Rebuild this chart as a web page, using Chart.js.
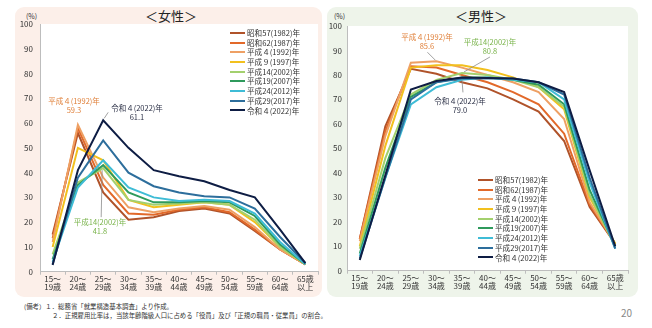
<!DOCTYPE html>
<html lang="ja">
<head>
<meta charset="utf-8">
<script src="https://cdn.jsdelivr.net/npm/chart.js@4"></script>
<style>
  body { margin: 0; width: 652px; height: 328px; background: #fff; position: relative; overflow: hidden;
         font-family: "Noto Sans CJK JP", "Noto Sans", sans-serif; color: #333; }
  .panel { position: absolute; top: 7px; height: 290px; border-radius: 9px; }
  .abs { position: absolute; white-space: nowrap; }
  .ttl { font-size: 13px; color: #222; transform: translateX(-50%); }
  .ann { font-size: 7.5px; line-height: 9px; text-align: center; transform: translateX(-50%); }
  .leg { position: absolute; font-size: 7.6px; line-height: 9.7px; color: #333; }
  .leg div { display: flex; align-items: center; height: 9.7px; }
  .leg span { display: inline-block; width: 15px; height: 2px; margin-right: 2px; }
  .note { font-size: 6.4px; color: #333; }
  canvas { position: absolute; top: 0; }
</style>
</head>
<body>
<div class="panel" style="left:15px;width:307px;background:#fcefe9"></div>
<div class="panel" style="left:327px;width:311px;background:#eef4ea"></div>

<div class="abs ttl" style="left:171px;top:6px">＜女性＞</div>
<div class="abs ttl" style="left:481px;top:6px">＜男性＞</div>
<div class="abs" style="left:26px;top:11px;font-size:7px">(%)</div>
<div class="abs" style="left:334px;top:11px;font-size:7px">(%)</div>

<canvas id="femaleChart" width="322" height="297" style="left:0;width:322px;height:297px"></canvas>
<canvas id="maleChart" width="313" height="297" style="left:325px;width:313px;height:297px"></canvas>

<div class="leg" id="legF" style="left:230px;top:28px"></div>
<div class="leg" id="legM" style="left:478px;top:175px"></div>

<div class="abs ann" style="left:74px;top:96px;color:#e0803a">平成４(1992)年<br>59.3</div>
<div class="abs ann" style="left:137px;top:103px;color:#2a2f45">令和４(2022)年<br>61.1</div>
<div class="abs ann" style="left:100px;top:217px;color:#79b34a">平成14(2002)年<br>41.8</div>
<div class="abs ann" style="left:427px;top:32px;color:#e0803a">平成４(1992)年<br>85.6</div>
<div class="abs ann" style="left:490px;top:37px;color:#79b34a">平成14(2002)年<br>80.8</div>
<div class="abs ann" style="left:460px;top:96px;color:#2a2f45">令和４(2022)年<br>79.0</div>

<div class="abs note" style="left:24px;top:302px">(備考）１．総務省「就業構造基本調査」より作成。</div>
<div class="abs note" style="left:52px;top:311px">２．正規雇用比率は，当該年齢階級人口に占める「役員」及び「正規の職員・従業員」の割合。</div>
<div class="abs" style="left:621px;top:305px;font-size:10px;color:#888">20</div>

<script>
// 年齢階級
const ageLabels = [["15～","19歳"],["20～","24歳"],["25～","29歳"],["30～","34歳"],["35～","39歳"],
  ["40～","44歳"],["45～","49歳"],["50～","54歳"],["55～","59歳"],["60～","64歳"],["65歳","以上"]];
const years = ["昭和57(1982)年","昭和62(1987)年","平成４(1992)年","平成９(1997)年","平成14(2002)年",
  "平成19(2007)年","平成24(2012)年","平成29(2017)年","令和４(2022)年"];
const yTicks = [0, 10, 20, 30, 40, 50, 60, 70, 80, 90, 100];

// 女性 正規雇用比率 (%)
const f1982 = [15, 56, 32, 21, 22, 24.5, 25.5, 23.5, 16.5, 9, 3];
const f1987 = [13.5, 58, 35, 23.5, 23, 25, 26, 24, 17, 9, 3];
const f1992 = [12, 59.3, 38, 26, 24, 25.5, 26.5, 25, 18, 9, 3];
const f1997 = [10, 50, 45, 29, 26, 27, 28, 27, 20, 10, 3];
const f2002 = [7, 36, 41.8, 29, 27, 27.5, 28, 27, 21, 10, 3];
const f2007 = [5, 35, 43, 32, 28, 28, 28.5, 28, 22.5, 11, 3];
const f2012 = [4, 34, 45, 34, 30, 28.5, 29, 28.5, 23.5, 12, 3];
const f2017 = [3, 38, 53, 40, 34.5, 32, 30.5, 30, 25.5, 14, 3.5];
const f2022 = [2.7, 41, 61.1, 50, 41, 38.5, 36.5, 33, 30, 17, 3.5];

// 男性 正規雇用比率 (%)
const m1982 = [13, 59, 82.5, 80.5, 77, 74.5, 70, 65, 53, 26, 11];
const m1987 = [13, 57, 83.5, 83, 80, 77, 73, 68, 56, 27, 11];
const m1992 = [12, 55, 85, 85.6, 83, 80, 77, 73, 62, 28, 11];
const m1997 = [10, 51, 83, 84, 84, 82, 79, 75, 66, 30, 11];
const m2002 = [9, 46, 72, 78, 80.8, 80, 78, 75, 67, 31, 10];
const m2007 = [7, 42, 71, 77, 79, 79, 78, 76, 68, 33, 10];
const m2012 = [6, 38, 68, 75, 78, 79, 78, 77, 70, 36, 9];
const m2017 = [5, 38, 70, 77, 78.5, 78.5, 78.5, 77, 72, 38, 9];
const m2022 = [4.4, 39, 74, 77.5, 79.0, 78.8, 78.5, 77, 73, 41, 10];

const lineColors = ["#b0532a", "#e2692a", "#eea064", "#f2c01e", "#a3d06e", "#2f9a5c", "#3fbcd6", "#2d6e9c", "#0e1d44"];

// 凡例
function buildLegend(id) {
  const box = document.getElementById(id);
  years.forEach((y, i) => {
    const row = document.createElement("div");
    row.innerHTML = '<span style="background:' + lineColors[i] + '"></span>' + y;
    box.appendChild(row);
  });
}
buildLegend("legF");
buildLegend("legM");

// プロット領域を白に
const plotBg = {
  id: "plotBg",
  beforeDraw(chart) {
    const { ctx, chartArea: a } = chart;
    ctx.save();
    ctx.fillStyle = "#fff";
    ctx.fillRect(a.left, a.top, a.right - a.left, a.bottom - a.top);
    ctx.restore();
  }
};

// 引き出し線
const leaders = {
  id: "leaders",
  afterDatasetsDraw(chart, args, opts) {
    const { ctx, scales } = chart;
    ctx.save();
    ctx.strokeStyle = "#8a8a8a";
    ctx.lineWidth = 0.8;
    (opts.items || []).forEach(it => {
      const v = chart.data.datasets[it.ds].data[it.idx];
      const x = scales.x.getPixelForValue(it.idx);
      const y = scales.y.getPixelForValue(v);
      ctx.beginPath();
      ctx.moveTo(x + it.gap[0], y + it.gap[1]);
      ctx.lineTo(x + it.dx, y + it.dy);
      ctx.stroke();
    });
    ctx.restore();
  }
};

const fontFamily = '"Noto Sans CJK JP", "Noto Sans", sans-serif';

function makeChart(id, series, box, leaderItems) {
  return new Chart(document.getElementById(id), {
    type: "line",
    data: {
      labels: ageLabels,
      datasets: series.map((d, i) => ({
        label: years[i],
        data: d,
        borderColor: lineColors[i],
        backgroundColor: lineColors[i],
        borderWidth: 2,
        pointRadius: 0,
        tension: 0,
        fill: false,
        order: series.length - i
      }))
    },
    options: {
      responsive: false,
      animation: false,
      layout: { padding: { top: box.top, right: box.right, left: 0, bottom: 0 } },
      plugins: {
        legend: { display: false },
        tooltip: { enabled: false },
        leaders: { items: leaderItems }
      },
      scales: {
        x: {
          offset: true,
          grid: { display: true, drawOnChartArea: false, drawTicks: true, tickLength: 3, offset: true, color: "#bdbdbd" },
          border: { display: true, color: "#bdbdbd" },
          ticks: { autoSkip: false, maxRotation: 0, padding: 0, color: "#333",
                   font: { family: fontFamily, size: 8, lineHeight: 1.05 } },
          afterFit: s => { s.height = box.xh; }
        },
        y: {
          min: 0, max: 100,
          afterBuildTicks: s => { s.ticks = yTicks.map(v => ({ value: v })); },
          grid: { display: false, drawTicks: false },
          border: { display: true, color: "#bdbdbd" },
          ticks: { padding: box.tickPad, color: "#333", font: { family: fontFamily, size: 8 } },
          afterFit: s => { s.width = box.yw; }
        }
      }
    },
    plugins: [plotBg, leaders]
  });
}

makeChart("femaleChart",
  [f1982, f1987, f1992, f1997, f2002, f2007, f2012, f2017, f2022],
  { top: 24, right: 4, xh: 25.3, yw: 40, tickPad: 7 },
  [
    { ds: 8, idx: 2, gap: [1, -2], dx: 5, dy: -8 },
    { ds: 4, idx: 2, gap: [-1, 2], dx: -2, dy: 49 }
  ]);

makeChart("maleChart",
  [m1982, m1987, m1992, m1997, m2002, m2007, m2012, m2017, m2022],
  { top: 26, right: 10, xh: 26.3, yw: 22, tickPad: 5 },
  [
    { ds: 2, idx: 3, gap: [-1, -1], dx: -9, dy: -9 },
    { ds: 4, idx: 4, gap: [2, -1], dx: 28, dy: -16 },
    { ds: 8, idx: 4, gap: [0, 2], dx: 1, dy: 15 }
  ]);
</script>
</body>
</html>
